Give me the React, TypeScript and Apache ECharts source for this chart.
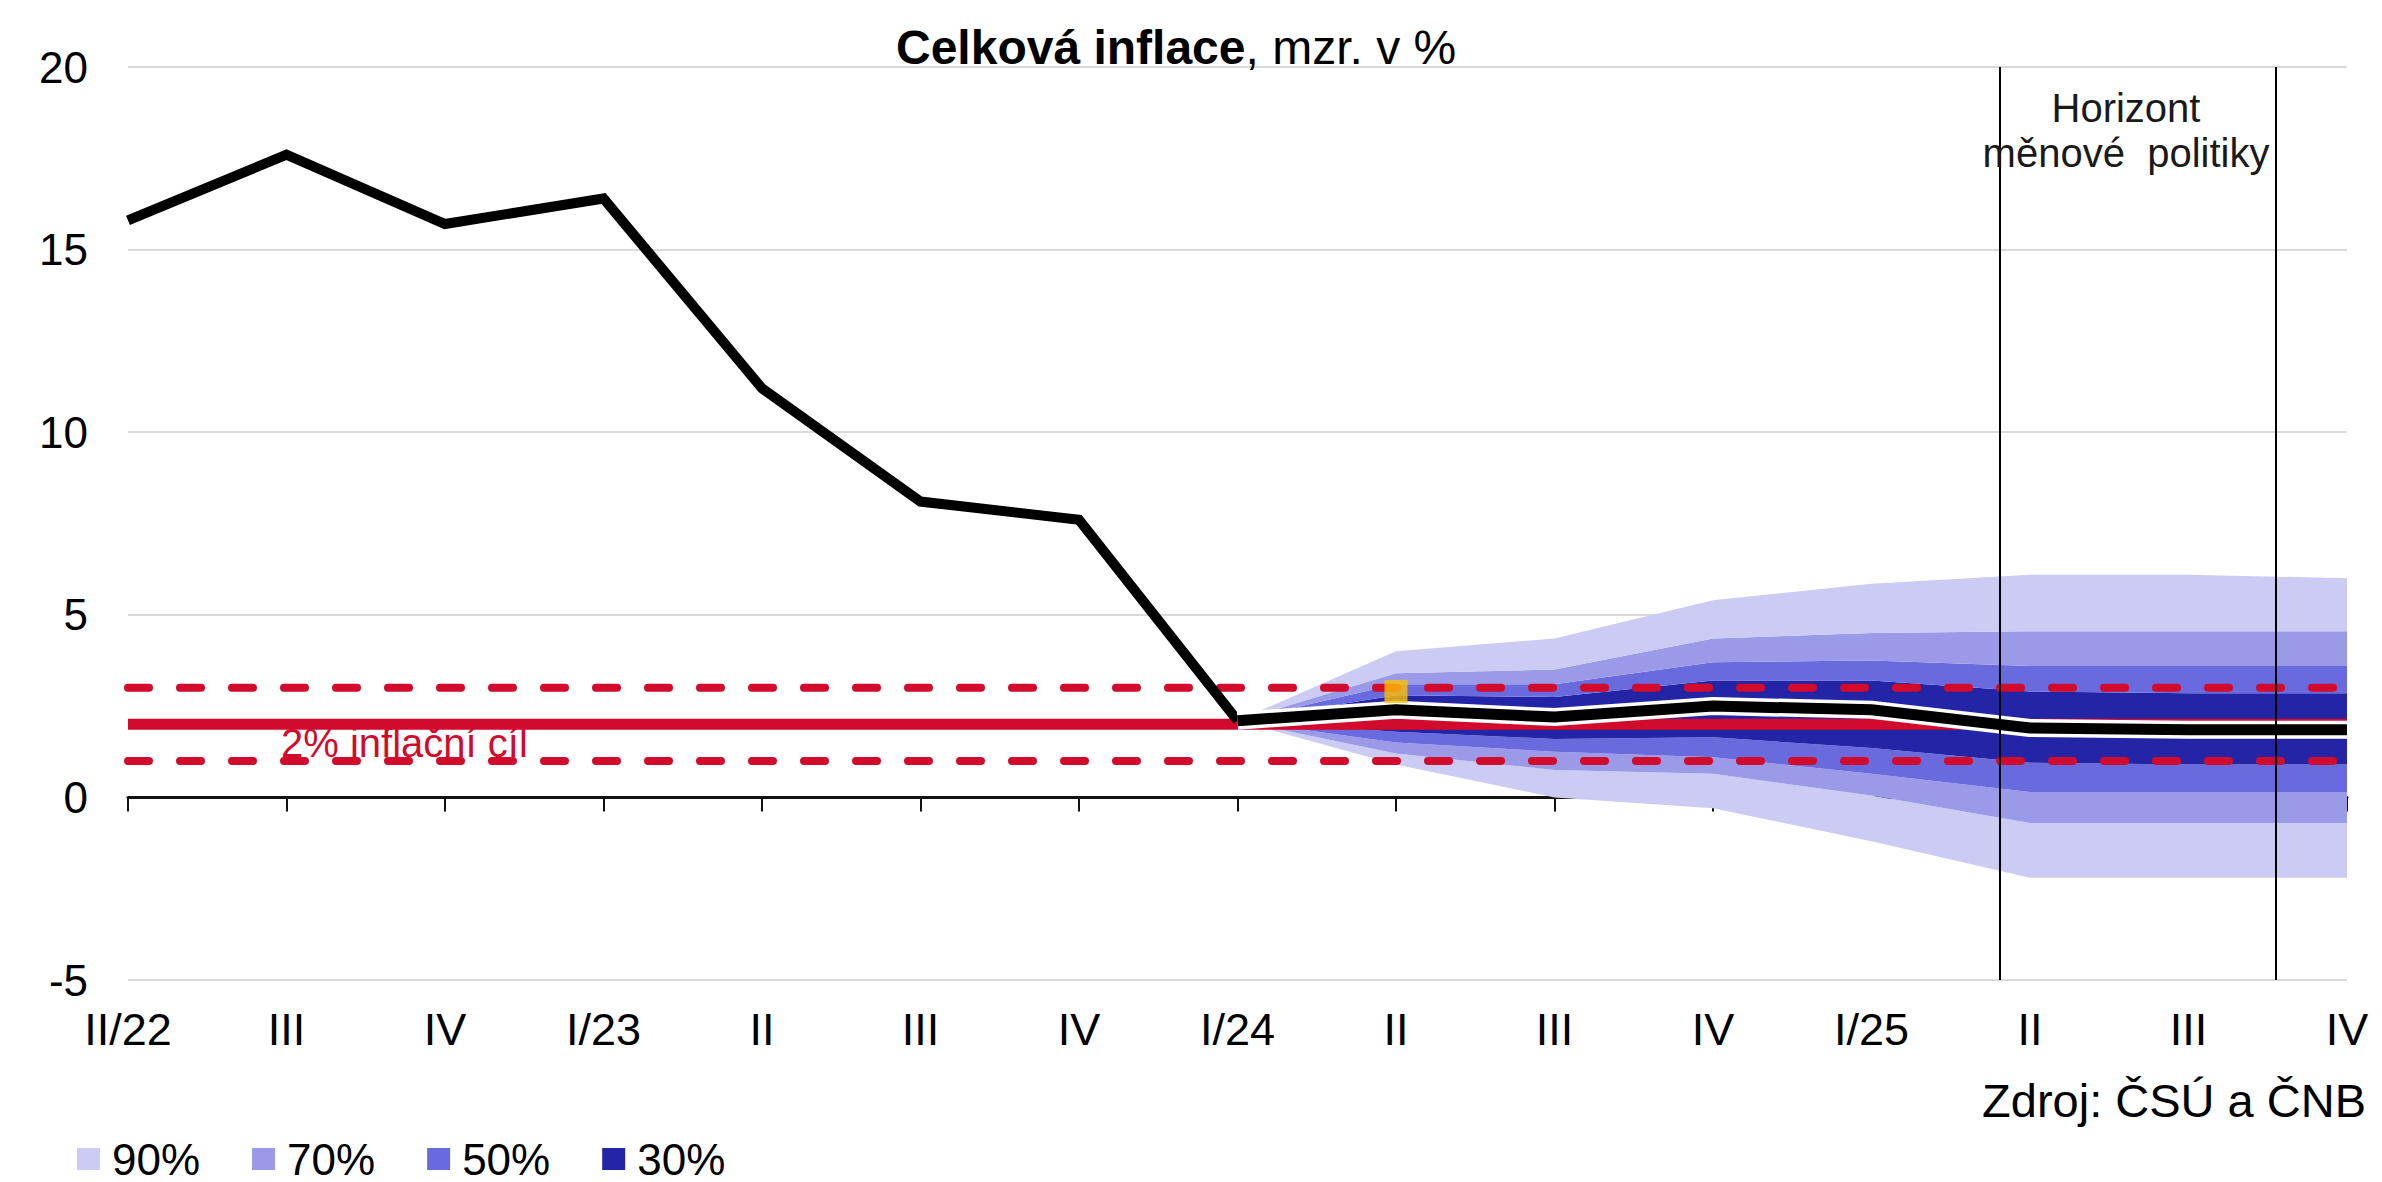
import React, { useEffect, useRef } from "react";
import * as echarts from "echarts";

const FONT = '"Liberation Sans", Arial, Helvetica, sans-serif';

// Quarter labels (x axis categories, index 0..14)
const quarters = ["II/22", "III", "IV", "I/23", "II", "III", "IV", "I/24", "II", "III", "IV", "I/25", "II", "III", "IV"];

// Actual headline inflation, y/y in % (II/22 .. I/24)
const history = [15.8, 17.6, 15.7, 16.4, 11.2, 8.1, 7.6, 2.1];

// Forecast (I/24 .. IV/25)
const forecastStart = 7;
const forecast = [2.1, 2.4, 2.2, 2.5, 2.4, 1.9, 1.85, 1.85];

// Fan chart bands (lower / upper bounds, I/24 .. IV/25)
const lo90 = [2.1, 0.9, 0.0, -0.3, -1.2, -2.2, -2.2, -2.2];
const lo70 = [2.1, 1.2, 0.75, 0.65, 0.05, -0.7, -0.7, -0.7];
const lo50 = [2.1, 1.5, 1.25, 1.1, 0.65, 0.15, 0.15, 0.15];
const lo30 = [2.1, 1.8, 1.6, 1.65, 1.35, 0.95, 0.9, 0.9];
const hi30 = [2.1, 2.8, 2.75, 3.2, 3.2, 2.9, 2.85, 2.85];
const hi50 = [2.1, 3.1, 3.1, 3.7, 3.75, 3.6, 3.6, 3.6];
const hi70 = [2.1, 3.4, 3.5, 4.35, 4.5, 4.55, 4.55, 4.55];
const hi90 = [2.1, 4.0, 4.35, 5.4, 5.85, 6.1, 6.1, 6.0];

// Inflation target and tolerance band
const target = 2;
const toleranceLow = 1;
const toleranceHigh = 3;

// Latest observed monthly value (yellow marker)
const latestPoint = [8, 2.9];

// Monetary policy horizon (x positions on quarter scale)
const horizonStart = 11.81;
const horizonEnd = 13.55;

// Y axis
const yMin = -5;
const yMax = 20;
const yStep = 5;

const bandNames = ["90%", "70%", "50%", "30%"];
const C90 = "#cbcbf3";
const C70 = "#9a9ae8";
const C50 = "#6a6adf";
const C30 = "#2424a6";
const RED = "#d20a2c";

const N = quarters.length;

// place a partial series on the full category range (null where absent)
const full = (vals: number[], start: number) =>
  quarters.map((_, i) => (i >= start && i < start + vals.length ? vals[i - start] : null));
const diff = (a: number[], b: number[]) => a.map((v, i) => Math.round((v - b[i]) * 1000) / 1000);
const constant = (v: number) => quarters.map(() => v);

function bandSeries(name: string, values: number[], color: string, withArea: boolean) {
  return {
    type: "line",
    name,
    xAxisIndex: 0,
    stack: "fan",
    stackStrategy: "all",
    data: full(values, forecastStart),
    symbol: "none",
    silent: true,
    connectNulls: false,
    lineStyle: { width: 0, opacity: 0, color },
    itemStyle: { color },
    areaStyle: withArea ? { color, opacity: 1 } : undefined,
    z: 1,
  };
}

export default function App() {
  const ref = useRef<HTMLDivElement | null>(null);

  useEffect(() => {
    if (!ref.current) return;
    const chart = echarts.init(ref.current, undefined, { renderer: "svg" });

    const series: any[] = [
      bandSeries("base", lo90, "rgba(0,0,0,0)", false),
      bandSeries("90%", diff(lo70, lo90), C90, true),
      bandSeries("70%", diff(lo50, lo70), C70, true),
      bandSeries("50%", diff(lo30, lo50), C50, true),
      bandSeries("30%", diff(hi30, lo30), C30, true),
      bandSeries("50%", diff(hi50, hi30), C50, true),
      bandSeries("70%", diff(hi70, hi50), C70, true),
      bandSeries("90%", diff(hi90, hi70), C90, true),
      {
        type: "line",
        name: "target",
        xAxisIndex: 0,
        data: constant(target),
        symbol: "none",
        silent: true,
        lineStyle: { color: RED, width: 11 },
        z: 2,
      },
      {
        type: "line",
        name: "tolHigh",
        xAxisIndex: 0,
        data: constant(toleranceHigh),
        symbol: "none",
        silent: true,
        lineStyle: { color: RED, width: 8, type: [21, 31], cap: "round" },
        z: 2,
      },
      {
        type: "line",
        name: "tolLow",
        xAxisIndex: 0,
        data: constant(toleranceLow),
        symbol: "none",
        silent: true,
        lineStyle: { color: RED, width: 8, type: [21, 31], cap: "round" },
        z: 2,
      },
      {
        type: "line",
        name: "history",
        xAxisIndex: 0,
        data: full(history, 0),
        symbol: "none",
        silent: true,
        lineStyle: { color: "#000", width: 10, join: "miter" },
        z: 3,
      },
      {
        type: "line",
        name: "forecastOutline",
        xAxisIndex: 0,
        data: full(forecast, forecastStart),
        symbol: "none",
        silent: true,
        lineStyle: { color: "#fff", width: 18, join: "round" },
        z: 3,
      },
      {
        type: "line",
        name: "forecast",
        xAxisIndex: 0,
        data: full(forecast, forecastStart),
        symbol: "none",
        silent: true,
        lineStyle: { color: "#000", width: 11, join: "round" },
        z: 3,
      },
      {
        type: "scatter",
        name: "latest",
        xAxisIndex: 1,
        data: [latestPoint],
        symbol: "rect",
        symbolSize: 23,
        silent: true,
        itemStyle: { color: "#ffc000" },
        z: 4,
        markLine: {
          silent: true,
          symbol: ["none", "none"],
          label: { show: false },
          lineStyle: { color: "#000", width: 2, type: "solid" },
          data: [{ xAxis: horizonStart }, { xAxis: horizonEnd }],
        },
      },
    ];

    const option: any = {
      animation: false,
      backgroundColor: "#ffffff",
      textStyle: { fontFamily: FONT },
      grid: { left: 128, right: 35, top: 67, bottom: 202, containLabel: false },
      legend: {
        data: bandNames,
        left: 77,
        top: 1137,
        padding: 0,
        itemGap: 52,
        itemWidth: 23,
        itemHeight: 22,
        icon: "rect",
        selectedMode: false,
        itemStyle: { borderWidth: 0 },
        textStyle: { fontSize: 44, color: "#000", fontFamily: FONT, padding: [0, 0, 0, 7] },
      },
      xAxis: [
        {
          type: "category",
          data: quarters,
          boundaryGap: false,
          position: "bottom",
          axisLine: { show: false, onZero: false },
          axisTick: { show: false },
          splitLine: { show: false },
          axisLabel: {
            show: true,
            interval: 0,
            margin: 27,
            fontSize: 45,
            color: "#000",
            fontFamily: FONT,
          },
        },
        {
          type: "value",
          min: 0,
          max: N - 1,
          interval: 1,
          position: "bottom",
          axisLine: { show: true, onZero: true, lineStyle: { color: "#111", width: 3 } },
          axisTick: { show: true, length: 14, lineStyle: { color: "#111", width: 2 } },
          splitLine: { show: false },
          axisLabel: { show: false },
        },
      ],
      yAxis: {
        type: "value",
        min: yMin,
        max: yMax,
        interval: yStep,
        axisLine: { show: false },
        axisTick: { show: false },
        splitLine: { show: true, lineStyle: { color: "#d9d9d9", width: 2 } },
        axisLabel: { margin: 40, fontSize: 44, color: "#000", fontFamily: FONT },
      },
      graphic: [
        {
          type: "text",
          x: 896,
          y: 47,
          z: 100,
          style: {
            text: "{b|Celková inflace}{n|, mzr. v %}",
            verticalAlign: "middle",
            align: "left",
            rich: {
              b: { fontSize: 48, fontWeight: "bold", fontFamily: FONT, fill: "#000" },
              n: { fontSize: 48, fontWeight: "normal", fontFamily: FONT, fill: "#000" },
            },
          },
        },
        {
          type: "text",
          x: 2126,
          y: 108,
          z: 100,
          style: { text: "Horizont", font: `40px ${FONT}`, fill: "#1a1a1a", align: "center", verticalAlign: "middle" },
        },
        {
          type: "text",
          x: 2126,
          y: 153,
          z: 100,
          style: { text: "měnové  politiky", font: `40px ${FONT}`, fill: "#1a1a1a", align: "center", verticalAlign: "middle" },
        },
        {
          type: "text",
          x: 281,
          y: 743,
          z: 100,
          style: { text: "2% inflační cíl", font: `40px ${FONT}`, fill: RED, align: "left", verticalAlign: "middle" },
        },
        {
          type: "text",
          x: 2366,
          y: 1100,
          z: 100,
          style: { text: "Zdroj: ČSÚ a ČNB", font: `47px ${FONT}`, fill: "#000", align: "right", verticalAlign: "middle" },
        },
      ],
      series,
    };

    chart.setOption(option);
    return () => chart.dispose();
  }, []);

  return (
    <div
      ref={ref}
      style={{ position: "fixed", left: 0, top: 0, width: 2382, height: 1182, background: "#fff" }}
    />
  );
}
